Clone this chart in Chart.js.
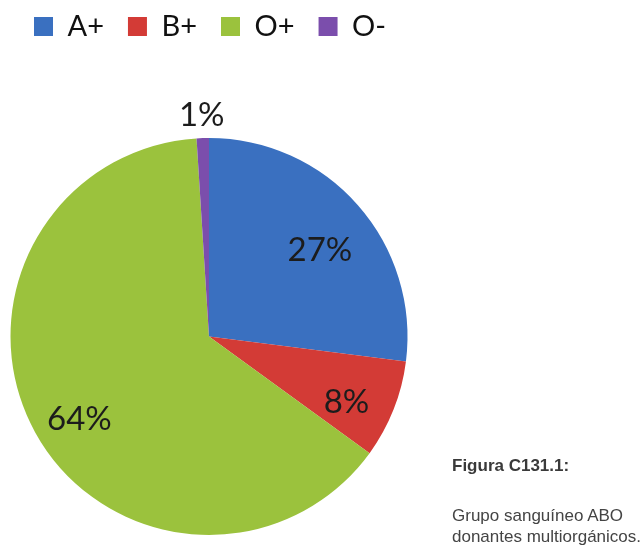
<!DOCTYPE html>
<html>
<head>
<meta charset="utf-8">
<script src="https://cdn.jsdelivr.net/npm/chart.js"></script>
<style>
  html, body { margin: 0; padding: 0; background: #fff; }
  #wrap { position: relative; width: 643px; height: 552px; }
  #caption {
    position: absolute; left: 452px; top: 455px;
    font-family: "Liberation Sans", Arial, sans-serif;
    font-size: 17px; line-height: 21px; color: #444;
    white-space: nowrap;
  }
  #caption b { display: block; margin-bottom: 29px; color: #3a3a3a; }
</style>
</head>
<body>
<div id="wrap">
  <canvas id="myChart" width="643" height="552"></canvas>
  <div id="caption">
    <b>Figura C131.1:</b>
    Grupo sanguíneo ABO<br>
    donantes multiorgánicos.
  </div>
</div>
<script>
const groupLabels = ['A+', 'B+', 'O+', 'O-'];
const groupShares = [27, 8, 64, 1];
const groupColors = ['#3a70c0', '#d33b36', '#9bc23d', '#7b4eac'];

// legend spans the full width (one row) and leaves room above the pie
const legendSpace = {
  id: 'legendSpace',
  afterInit(chart) {
    const origFit = chart.legend.fit;
    chart.legend.fit = function () {
      this.maxWidth = chart.width;
      origFit.call(this);
      this.height = 150;
    };
  },
  afterLayout(chart) {
    chart.legend.right = chart.width;
    chart.legend.width = chart.width - chart.legend.left;
  }
};

// percentage labels, small slices go outside
const sliceLabels = {
  id: 'sliceLabels',
  afterDatasetsDraw(chart) {
    const ctx = chart.ctx;
    const meta = chart.getDatasetMeta(0);
    ctx.save();
    ctx.font = '33px Lato';
    ctx.fillStyle = '#1c1c1c';
    ctx.textAlign = 'center';
    ctx.textBaseline = 'alphabetic';
    meta.data.forEach((arc, i) => {
      const p = arc.getProps(['x', 'y', 'startAngle', 'endAngle', 'outerRadius'], true);
      const mid = (p.startAngle + p.endAngle) / 2;
      const r = groupShares[i] < 5 ? p.outerRadius + 34 : p.outerRadius * 0.745;
      const x = p.x + Math.cos(mid) * r;
      const y = p.y + Math.sin(mid) * r;
      ctx.fillText(groupShares[i] + '%', x, y + 22);
    });
    ctx.restore();
  }
};

const config = {
  type: 'pie',
  data: {
    labels: groupLabels,
    datasets: [{
      data: groupShares,
      backgroundColor: groupColors,
      borderWidth: 0
    }]
  },
  options: {
    responsive: false,
    animation: false,
    layout: { padding: { top: -12, left: 10, right: 235, bottom: 17 } },
    plugins: {
      tooltip: { enabled: false },
      legend: {
        position: 'top',
        align: 'start',
        labels: {
          boxWidth: 19,
          boxHeight: 19,
          padding: 24,
          color: '#111',
          font: { family: 'Lato', size: 29 }
        }
      }
    }
  },
  plugins: [legendSpace, sliceLabels]
};

const myChart = new Chart(document.getElementById('myChart'), config);
</script>
</body>
</html>
